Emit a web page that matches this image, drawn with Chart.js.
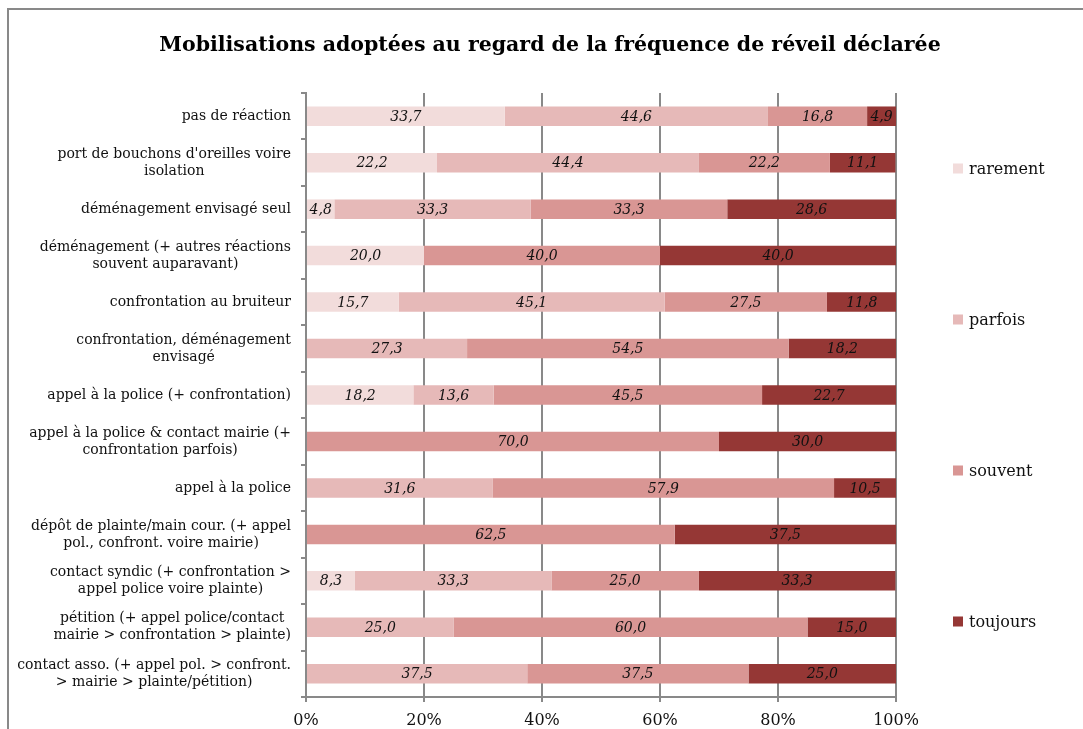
<!DOCTYPE html>
<html lang="fr">
<head>
<meta charset="utf-8">
<title>Mobilisations adoptées au regard de la fréquence de réveil déclarée</title>
<script src="https://cdn.jsdelivr.net/npm/chart.js@4/dist/chart.umd.min.js"></script>
<style>
  html, body { margin: 0; padding: 0; background: #fff; overflow: hidden; }
  #myChart { position: absolute; left: 0; top: 0; }
</style>
</head>
<body>
<canvas id="myChart" width="1083" height="729"></canvas>
<script>
// Categories (multi-line labels) and share of each answer, in %

const categories = [
    ['pas de réaction'],
    ["port de bouchons d'oreilles voire", 'isolation'],
    ['déménagement envisagé seul'],
    ['déménagement (+ autres réactions', 'souvent auparavant)'],
    ['confrontation au bruiteur'],
    ['confrontation, déménagement', 'envisagé'],
    ['appel à la police (+ confrontation)'],
    ['appel à la police & contact mairie (+', 'confrontation parfois)'],
    ['appel à la police'],
    ['dépôt de plainte/main cour. (+ appel', 'pol., confront. voire mairie)'],
    ['contact syndic (+ confrontation >', 'appel police voire plainte)'],
    ['pétition (+ appel police/contact', 'mairie > confrontation > plainte)'],
    ['contact asso. (+ appel pol. > confront.', '> mairie > plainte/pétition)'],
];

const rarement = [33.7, 22.2, 4.8, 20.0, 15.7, 0, 18.2, 0, 0, 0, 8.3, 0, 0];
const parfois  = [44.6, 44.4, 33.3, 0, 45.1, 27.3, 13.6, 0, 31.6, 0, 33.3, 25.0, 37.5];
const souvent  = [16.8, 22.2, 33.3, 40.0, 27.5, 54.5, 45.5, 70.0, 57.9, 62.5, 25.0, 60.0, 37.5];
const toujours = [4.9, 11.1, 28.6, 40.0, 11.8, 18.2, 22.7, 30.0, 10.5, 37.5, 33.3, 15.0, 25.0];

const xTicks = [0, 20, 40, 60, 80, 100];

const chartTitle = 'Mobilisations adoptées au regard de la fréquence de réveil déclarée';

const SERIF = '"DejaVu Serif", serif';
const GRID = '#898989';

// grey frame (top and left edges only, the rest runs off the page)
const frame = {
    id: 'frame',
    beforeDraw(chart) {
        const ctx = chart.ctx;
        ctx.save();
        ctx.strokeStyle = GRID;
        ctx.lineWidth = 2;
        ctx.beginPath();
        ctx.moveTo(8, chart.height);
        ctx.lineTo(8, 9);
        ctx.lineTo(chart.width, 9);
        ctx.stroke();
        ctx.restore();
    }
};

// category labels: each block right-aligned against the axis, lines centred within it
const categoryLabels = {
    id: 'categoryLabels',
    afterDraw(chart) {
        const ctx = chart.ctx;
        const yScale = chart.scales.y;
        const right = yScale.right - 15;
        const lh = 17;
        ctx.save();
        ctx.font = '14px ' + SERIF;
        ctx.fillStyle = '#111';
        ctx.textAlign = 'center';
        ctx.textBaseline = 'middle';
        chart.data.labels.forEach((lines, i) => {
            const y = yScale.getPixelForValue(i);
            const w = Math.max(...lines.map(l => ctx.measureText(l).width));
            const cx = right - w / 2;
            lines.forEach((l, k) => {
                ctx.fillText(l, cx, y + (k - (lines.length - 1) / 2) * lh);
            });
        });
        ctx.restore();
    }
};

// values written in the middle of each segment, French decimal comma
const valueLabels = {
    id: 'valueLabels',
    afterDatasetsDraw(chart) {
        const ctx = chart.ctx;
        ctx.save();
        ctx.font = 'italic 14px ' + SERIF;
        ctx.fillStyle = '#111';
        ctx.textAlign = 'center';
        ctx.textBaseline = 'middle';
        chart.data.datasets.forEach((ds, i) => {
            chart.getDatasetMeta(i).data.forEach((bar, j) => {
                const v = ds.data[j];
                if (!v) return;
                ctx.fillText(v.toFixed(1).replace('.', ','), (bar.x + bar.base) / 2, bar.y + 1);
            });
        });
        ctx.restore();
    }
};

// title + legend spread down the right side
const titleAndLegend = {
    id: 'titleAndLegend',
    afterDraw(chart) {
        const ctx = chart.ctx;
        const area = chart.chartArea;
        ctx.save();
        ctx.fillStyle = '#000';
        ctx.textAlign = 'center';
        ctx.textBaseline = 'middle';
        ctx.font = 'bold 20.5px ' + SERIF;
        ctx.fillText(chartTitle, 550, 46);

        const n = chart.data.datasets.length;
        const step = (area.bottom - area.top) / n;
        ctx.font = '16px ' + SERIF;
        ctx.textAlign = 'left';
        chart.data.datasets.forEach((ds, i) => {
            const y = area.top + (i + 0.5) * step;
            const x = area.right + 57;
            ctx.fillStyle = ds.backgroundColor;
            ctx.fillRect(x, y - 5, 10, 10);
            ctx.fillStyle = '#111';
            ctx.fillText(ds.label, x + 16, y + 1);
        });
        ctx.restore();
    }
};

const config = {
    type: 'bar',
    data: {
        labels: categories,
        datasets: [
            { label: 'rarement', data: rarement, backgroundColor: '#f2dcdb' },
            { label: 'parfois',  data: parfois,  backgroundColor: '#e6b9b8' },
            { label: 'souvent',  data: souvent,  backgroundColor: '#d99694' },
            { label: 'toujours', data: toujours, backgroundColor: '#953735' },
        ]
    },
    options: {
        indexAxis: 'y',
        responsive: false,
        animation: false,
        barPercentage: 0.84,
        categoryPercentage: 0.5,
        layout: {
            padding: { top: 93, left: 0, right: 187, bottom: 0 }
        },
        plugins: {
            legend: { display: false },
            title: { display: false },
            tooltip: { enabled: false }
        },
        scales: {
            x: {
                stacked: true,
                min: 0,
                max: 100,
                afterBuildTicks(scale) {
                    scale.ticks = xTicks.map(v => ({ value: v }));
                },
                afterFit(scale) {
                    scale.height = 32;
                },
                grid: {
                    color: GRID,
                    lineWidth: 2,
                    tickLength: 5,
                    tickColor: GRID
                },
                border: { color: GRID, width: 2 },
                ticks: {
                    padding: 9,
                    color: '#111',
                    font: { family: SERIF, size: 16 },
                    callback: v => v + '%'
                }
            },
            y: {
                stacked: true,
                afterFit(scale) {
                    scale.width = 306;
                },
                grid: {
                    drawOnChartArea: false,
                    color: GRID,
                    lineWidth: 2,
                    tickLength: 5
                },
                border: { color: GRID, width: 2 },
                ticks: { display: false }
            }
        }
    },
    plugins: [frame, categoryLabels, valueLabels, titleAndLegend]
};

const ctx = document.querySelector('#myChart');
let myChart = new Chart(ctx, config);
</script>
</body>
</html>
